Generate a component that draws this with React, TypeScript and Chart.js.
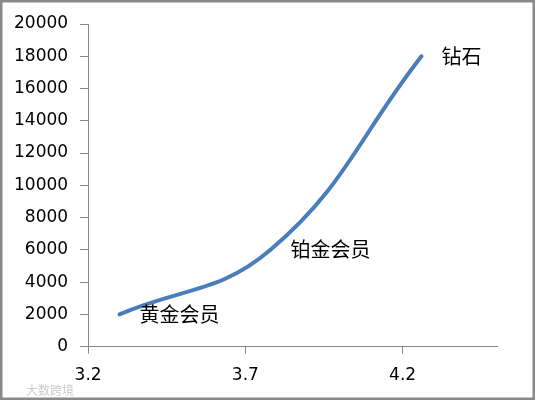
import React, { useEffect, useRef } from "react";
import { Chart, registerables } from "chart.js";

Chart.register(...registerables);

const tierLabels = ["黄金会员", "铂金会员", "钻石"];
const xValues = [3.3, 3.78, 4.26];
const yValues = [2000, 6000, 18000];
const xTicks = [3.2, 3.7, 4.2];
const watermark = "大数跨境";

const labelPlugin = {
  id: "tierLabels",
  afterDatasetsDraw(chart: any) {
    const ctx = chart.ctx;
    const meta = chart.getDatasetMeta(0);
    ctx.save();
    ctx.font = '20px "Noto Sans CJK SC"';
    ctx.fillStyle = "#000";
    ctx.textAlign = "left";
    ctx.textBaseline = "middle";
    meta.data.forEach((pt: any, i: number) => {
      ctx.fillText(tierLabels[i], pt.x + 20, pt.y);
    });
    ctx.restore();
  },
  afterDraw(chart: any) {
    const ctx = chart.ctx;
    ctx.save();
    ctx.strokeStyle = "#898989";
    ctx.lineWidth = 2.5;
    ctx.strokeRect(1.25, 1.25, chart.width - 3.5, chart.height - 3.5);
    ctx.font = '12px "Noto Sans CJK SC"';
    ctx.fillStyle = "rgba(150,150,150,0.5)";
    ctx.textBaseline = "middle";
    ctx.fillText(watermark, 26, 390);
    ctx.restore();
  },
};

export default function App() {
  const ref = useRef<HTMLCanvasElement>(null);
  useEffect(() => {
    const canvas = ref.current!;
    const chart = new Chart(canvas, {
      type: "scatter",
      data: {
        datasets: [
          {
            data: xValues.map((x, i) => ({ x, y: yValues[i] })),
            showLine: true,
            borderColor: "#4a7ebb",
            backgroundColor: "#4a7ebb",
            borderWidth: 4,
            borderCapStyle: "round",
            tension: 0.42,
            pointRadius: 0,
            pointHoverRadius: 0,
          },
        ],
      },
      options: {
        animation: false,
        responsive: false,
        devicePixelRatio: 1,
        layout: { padding: { top: 24, left: 2, right: 39, bottom: 3 } },
        plugins: { legend: { display: false }, tooltip: { enabled: false } },
        scales: {
          x: {
            type: "linear",
            min: 3.2,
            max: 4.5,
            afterBuildTicks: (scale: any) => {
              scale.ticks = xTicks.map((v) => ({ value: v }));
            },
            grid: {
              drawOnChartArea: false,
              drawTicks: true,
              tickLength: 7,
              color: "#868686",
            },
            border: { color: "#868686", width: 1 },
            ticks: {
              color: "#000",
              padding: 12,
              maxRotation: 0,
              font: { family: "DejaVu Sans", size: 17 },
              callback: (v: any) => Number(v).toFixed(1),
            },
          },
          y: {
            type: "linear",
            min: 0,
            max: 20000,
            ticks: {
              stepSize: 2000,
              color: "#000",
              padding: 12,
              font: { family: "DejaVu Sans", size: 17 },
              callback: (v: any) => String(v),
            },
            grid: {
              drawOnChartArea: false,
              drawTicks: true,
              tickLength: 8,
              color: "#868686",
            },
            border: { color: "#868686", width: 1 },
          },
        },
      },
      plugins: [labelPlugin],
    } as any);
    return () => chart.destroy();
  }, []);
  return (
    <div style={{ position: "absolute", left: 0, top: 0, width: 536, height: 401, background: "#fff" }}>
      <canvas ref={ref} width={536} height={401} style={{ display: "block" }} />
    </div>
  );
}
